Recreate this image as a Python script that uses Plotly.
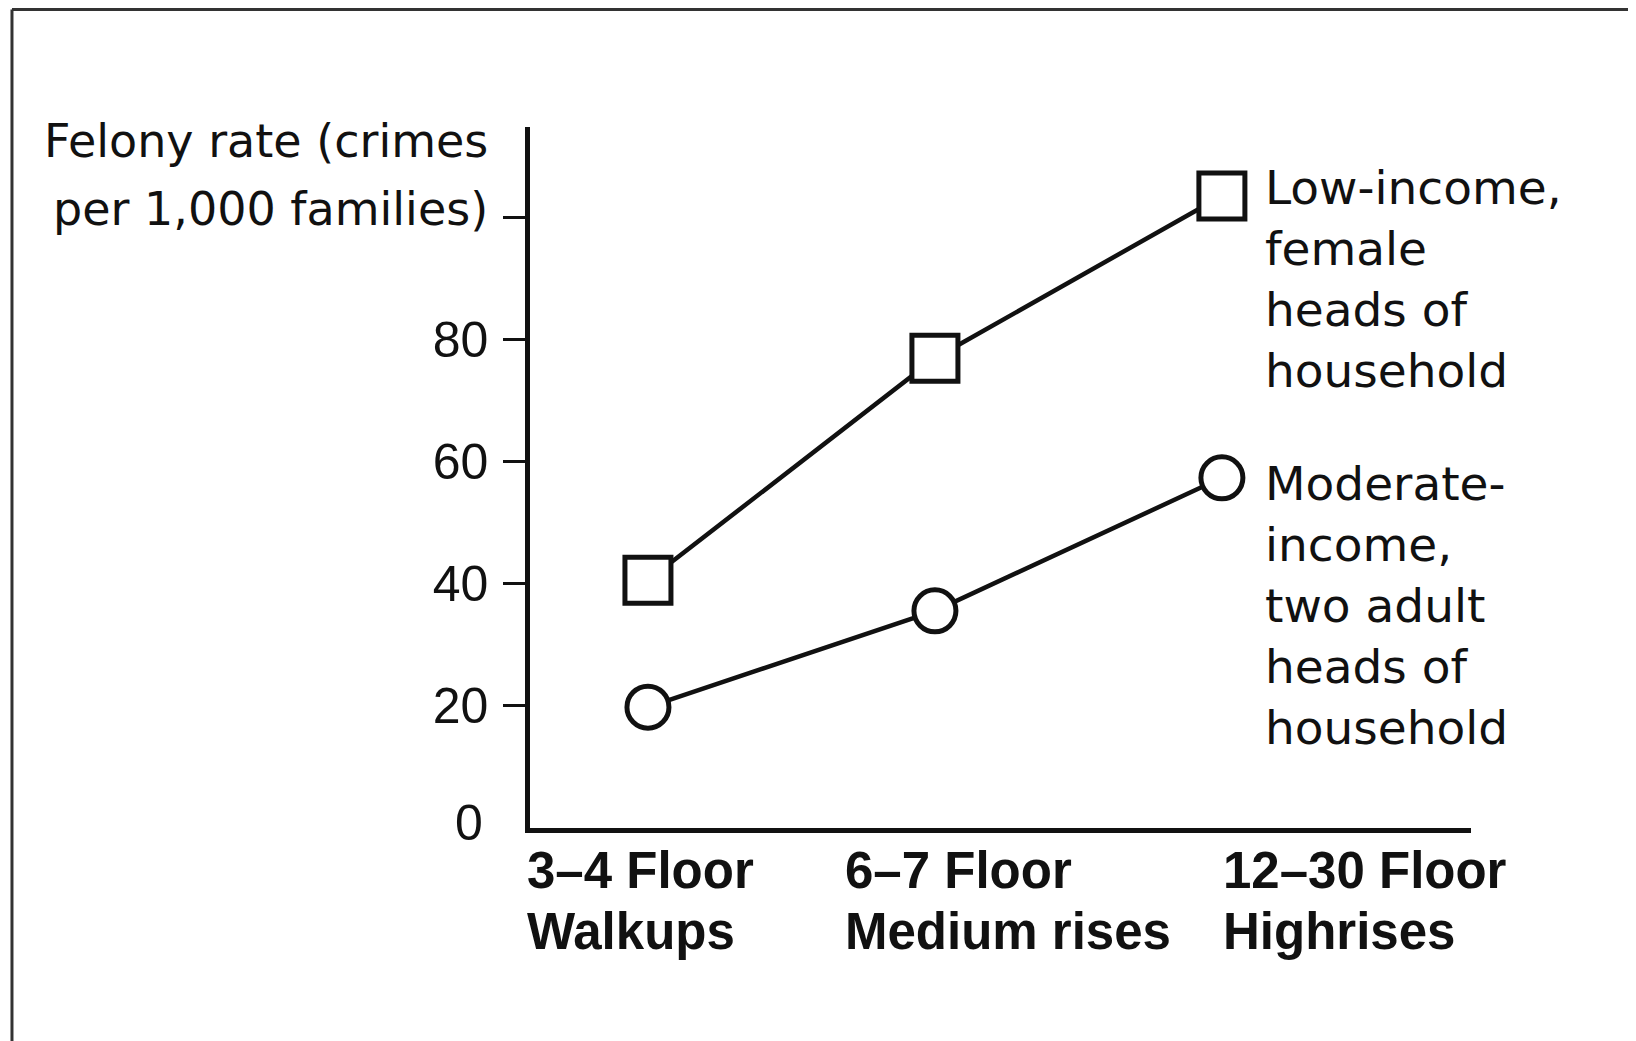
import plotly.graph_objects as go

# ---- data ----
categories_x = [0, 1, 2]
category_line1 = ["3\u20134 Floor", "6\u20137 Floor", "12\u201330 Floor"]
category_line2 = ["Walkups", "Medium rises", "Highrises"]
low_income = [40.6, 77.0, 103.6]
moderate_income = [19.8, 35.6, 57.4]
y_tickvals = [20, 40, 60, 80, 100]
y_ticktext = ["20", "40", "60", "80", ""]
y_zero_label = "0"
low_label = ["Low-income,", "female", "heads of", "household"]
mod_label = ["Moderate-", "income,", "two adult", "heads of", "household"]
y_title = ["Felony rate (crimes", "per 1,000 families)"]

BLACK = "#111111"
SANS = "Liberation Sans, Arial, sans-serif"
WIDE = "DejaVu Sans, sans-serif"

fig = go.Figure()
fig.add_trace(go.Scatter(
    x=categories_x, y=low_income, mode="lines+markers",
    line=dict(color=BLACK, width=4.5),
    marker=dict(symbol="square", size=46, color="white",
                line=dict(color=BLACK, width=5)),
    showlegend=False, hoverinfo="skip"))
fig.add_trace(go.Scatter(
    x=categories_x, y=moderate_income, mode="lines+markers",
    line=dict(color=BLACK, width=4.5),
    marker=dict(symbol="circle", size=42, color="white",
                line=dict(color=BLACK, width=5)),
    showlegend=False, hoverinfo="skip"))

annotations = []
# category labels (left aligned, bold, two lines)
cat_xshift = [-123, -92, -1]
for i, (a, b) in enumerate(zip(category_line1, category_line2)):
    for txt, yp in zip([a, b], [-0.0613, -0.147]):
        annotations.append(dict(
            x=categories_x[i], y=yp, xref="x", yref="paper",
            text=f"<b>{txt}</b>", showarrow=False, align="left",
            xanchor="left", yanchor="middle", xshift=cat_xshift[i],
            font=dict(family=SANS, size=51, color=BLACK)))

# "0" label at the origin (the reference shows no tick mark there)
annotations.append(dict(
    x=0, y=0, xref="paper", yref="y", text=y_zero_label, showarrow=False,
    xanchor="right", yanchor="middle", xshift=-45, yshift=5,
    font=dict(family=SANS, size=50, color=BLACK)))

# y-axis title lines (right aligned)
for txt, yp in zip(y_title, [0.980, 0.883]):
    annotations.append(dict(
        x=-0.042, y=yp, xref="paper", yref="paper", text=txt,
        showarrow=False, xanchor="right", yanchor="middle",
        font=dict(family=WIDE, size=46, color=BLACK)))

# series labels next to the last points
annotations.append(dict(
    x=categories_x[-1], y=low_income[-1], xref="x", yref="y",
    text="<br>".join(low_label), showarrow=False, align="left",
    xanchor="left", yanchor="top", xshift=41, yshift=38,
    font=dict(family=WIDE, size=47, color=BLACK)))
annotations.append(dict(
    x=categories_x[-1], y=moderate_income[-1], xref="x", yref="y",
    text="<br>".join(mod_label), showarrow=False, align="left",
    xanchor="left", yanchor="top", xshift=41, yshift=24,
    font=dict(family=WIDE, size=47, color=BLACK)))

# page frame (scanned border)
shapes = [
    dict(type="line", xref="paper", yref="paper", x0=-0.5505, x1=1.3,
         y0=1.1676, y1=1.1676, line=dict(color="#333333", width=3)),
    dict(type="line", xref="paper", yref="paper", x0=-0.5505, x1=-0.5505,
         y0=1.1676, y1=-0.4, line=dict(color="#333333", width=3)),
]

fig.update_layout(
    width=1628, height=1033,
    margin=dict(l=522, r=165, t=119, b=213),
    paper_bgcolor="white", plot_bgcolor="white",
    annotations=annotations, shapes=shapes,
    xaxis=dict(range=[-0.411, 2.868], showgrid=False, zeroline=False,
               showline=True, linecolor=BLACK, linewidth=4.5,
               showticklabels=False, ticks=""),
    yaxis=dict(range=[0, 114.9], showgrid=False, zeroline=False,
               showline=True, linecolor=BLACK, linewidth=4.5,
               tickvals=y_tickvals, ticktext=y_ticktext,
               ticks="outside", ticklen=22, tickwidth=3, tickcolor=BLACK,
               ticklabelstandoff=5,
               tickfont=dict(family=SANS, size=50, color=BLACK)),
)

fig.write_html("out.html")
